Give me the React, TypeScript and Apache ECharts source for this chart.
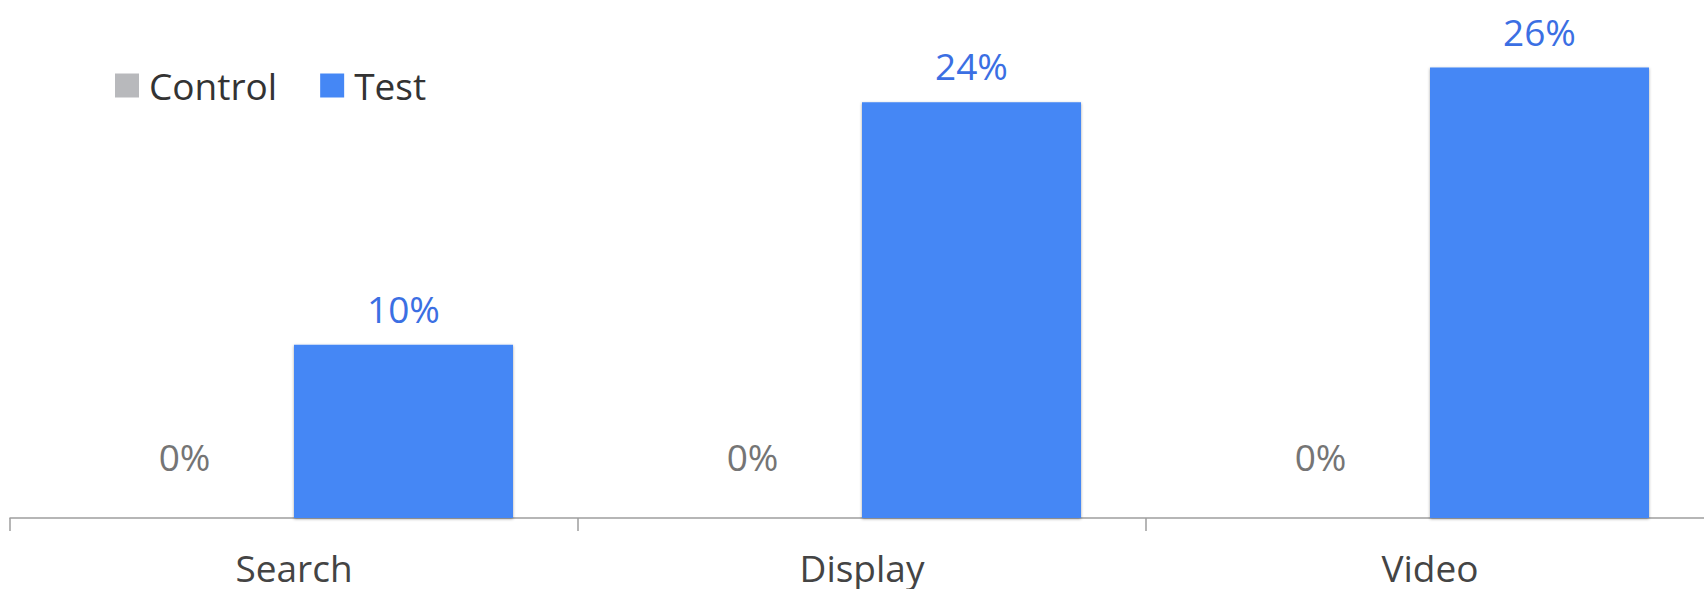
import React, { useEffect, useRef } from "react";
import * as echarts from "echarts";

const categories = ["Search", "Display", "Video"];
const controlValues = [0, 0, 0];
const testValues = [10, 24, 26];
const seriesNames = ["Control", "Test"];

export default function App() {
  const ref = useRef<HTMLDivElement>(null);
  useEffect(() => {
    if (!ref.current) return;
    const chart = echarts.init(ref.current, undefined, { renderer: "svg" });
    const font = "'Open Sans', 'Noto Sans', sans-serif";
    chart.setOption({
      animation: false,
      textStyle: { fontFamily: font },
      legend: {
        left: 110,
        top: 62,
        itemWidth: 24,
        itemHeight: 24,
        itemGap: 43,
        icon: "rect",
        textStyle: { fontSize: 37, color: "#333333", fontFamily: font, padding: [0, 0, 0, 5] },
        data: seriesNames,
      },
      grid: { left: 10, width: 1704, top: 0, bottom: 71, containLabel: false },
      xAxis: {
        type: "category",
        data: categories,
        axisLine: { lineStyle: { color: "#9e9e9e", width: 1.5 } },
        axisTick: { show: true, length: 13, lineStyle: { color: "#9e9e9e", width: 1.5 } },
        axisLabel: { fontSize: 37, lineHeight: 36, color: "#444444", margin: 31, fontFamily: font },
      },
      yAxis: {
        type: "value",
        min: 0,
        max: 29.9,
        show: false,
        splitLine: { show: false },
      },
      series: [
        {
          name: seriesNames[0],
          type: "bar",
          data: controlValues,
          barWidth: 219,
          barGap: "0%",
          itemStyle: { color: "#b8b9bc" },
          label: {
            show: true,
            position: "top",
            distance: 43,
            formatter: (p: any) => p.value + "%",
            fontSize: 37,
            color: "#757575",
            fontFamily: font,
          },
        },
        {
          name: seriesNames[1],
          type: "bar",
          data: testValues,
          barWidth: 219,
          barGap: "0%",
          itemStyle: {
            color: "#4587f5",
            shadowBlur: 3,
            shadowColor: "rgba(0,0,0,0.35)",
            shadowOffsetY: 1,
          },
          label: {
            show: true,
            position: "top",
            distance: 18,
            formatter: (p: any) => p.value + "%",
            fontSize: 37,
            color: "#3b6fe3",
            fontFamily: font,
          },
        },
      ],
    });
    return () => chart.dispose();
  }, []);
  return (
    <div style={{ position: "fixed", left: 0, top: 0, width: 1704, height: 589, overflow: "hidden", background: "#ffffff" }}>
      <div ref={ref} style={{ width: 1730, height: 589 }} />
    </div>
  );
}
